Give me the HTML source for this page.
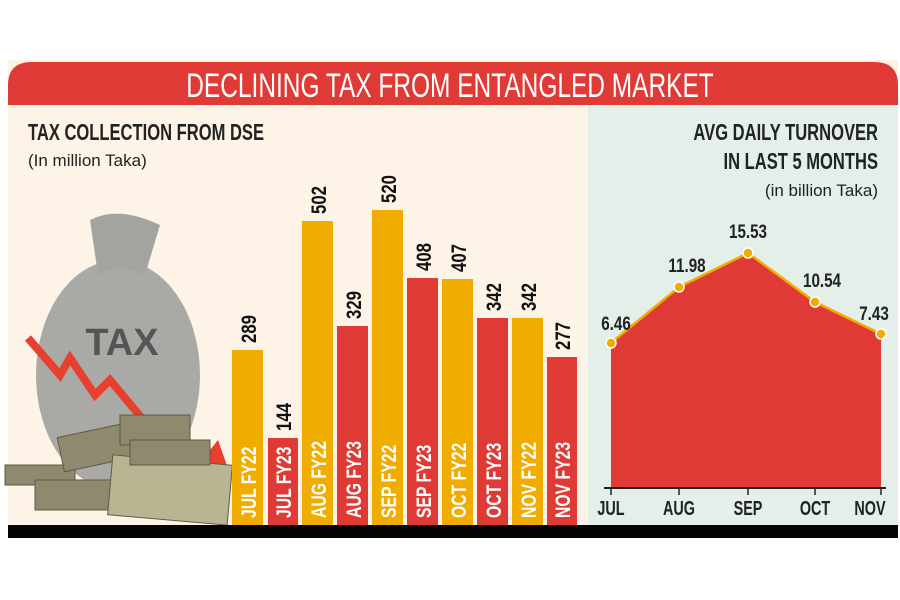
<!DOCTYPE html>
<html><head><meta charset="utf-8"><style>
html,body{margin:0;padding:0;background:#fff;}
svg{display:block;font-family:"Liberation Sans",sans-serif;}
</style></head><body>
<svg width="900" height="600" viewBox="0 0 900 600">
<rect x="0" y="0" width="900" height="600" fill="#ffffff"/>
<rect x="8" y="60" width="890" height="470" fill="#fdf3e6"/>
<path d="M8 105 V85 Q8 62 32 62 H874 Q898 62 898 85 V105 Z" fill="#e03a36"/>
<text x="450" y="97" text-anchor="middle" fill="#fff" font-size="34" transform="translate(450 0) scale(0.72 1) translate(-450 0)">DECLINING TAX FROM ENTANGLED MARKET</text>
<rect x="588" y="105" width="310" height="420" fill="#e3efe8"/>
<text x="28" y="140" font-size="23" font-weight="bold" fill="#222" transform="translate(28 0) scale(0.72 1) translate(-28 0)">TAX COLLECTION FROM DSE</text>
<text x="28" y="166" font-size="17" fill="#222">(In million Taka)</text>
<text x="878" y="140" text-anchor="end" font-size="23" font-weight="bold" fill="#222" transform="translate(878 0) scale(0.72 1) translate(-878 0)">AVG DAILY TURNOVER</text>
<text x="878" y="169" text-anchor="end" font-size="23" font-weight="bold" fill="#222" transform="translate(878 0) scale(0.72 1) translate(-878 0)">IN LAST 5 MONTHS</text>
<text x="878" y="196" text-anchor="end" font-size="17" fill="#222">(in billion Taka)</text>
<!-- bag illustration -->
<ellipse cx="118" cy="375" rx="82" ry="115" fill="#a9a9a5"/>
<path d="M90 220 Q118 205 160 225 L145 275 Q118 262 98 275 Z" fill="#a3a3a0"/>
<text x="122" y="355" text-anchor="middle" font-size="38" font-weight="bold" fill="#555">TAX</text>
<polyline points="28,338 60,375 70,358 95,395 110,380 135,410 160,440 205,470" fill="none" stroke="#e8402e" stroke-width="8"/>
<polygon points="190,475 232,480 218,440" fill="#e8402e"/>
<g fill="#8f8a6d" stroke="#5c5a45" stroke-width="1">
<rect x="5" y="465" width="70" height="20" />
<rect x="60" y="430" width="70" height="35" transform="rotate(-12 95 447)"/>
<rect x="120" y="415" width="70" height="30"/>
<rect x="35" y="480" width="95" height="30"/>
<rect x="110" y="460" width="120" height="60" transform="rotate(5 170 490)" fill="#b9b491"/>
<rect x="130" y="440" width="80" height="25"/>
</g>
<!-- bars -->
<g>
<rect x="232" y="350" width="31" height="175" fill="#f0ad00"/>
<rect x="268" y="438" width="30" height="87" fill="#e03a36"/>
<rect x="302" y="221" width="31" height="304" fill="#f0ad00"/>
<rect x="337" y="326" width="31" height="199" fill="#e03a36"/>
<rect x="372" y="210" width="31" height="315" fill="#f0ad00"/>
<rect x="407" y="278" width="31" height="247" fill="#e03a36"/>
<rect x="442" y="279" width="31" height="246" fill="#f0ad00"/>
<rect x="477" y="318" width="31" height="207" fill="#e03a36"/>
<rect x="512" y="318" width="31" height="207" fill="#f0ad00"/>
<rect x="547" y="357" width="30" height="168" fill="#e03a36"/>
</g>
<g font-size="21" font-weight="bold" fill="#fff">
<text transform="translate(256 518) rotate(-90) scale(0.75 1)">JUL FY22</text>
<text transform="translate(291 518) rotate(-90) scale(0.75 1)">JUL FY23</text>
<text transform="translate(326 518) rotate(-90) scale(0.75 1)">AUG FY22</text>
<text transform="translate(361 518) rotate(-90) scale(0.75 1)">AUG FY23</text>
<text transform="translate(396 518) rotate(-90) scale(0.75 1)">SEP FY22</text>
<text transform="translate(431 518) rotate(-90) scale(0.75 1)">SEP FY23</text>
<text transform="translate(466 518) rotate(-90) scale(0.75 1)">OCT FY22</text>
<text transform="translate(501 518) rotate(-90) scale(0.75 1)">OCT FY23</text>
<text transform="translate(536 518) rotate(-90) scale(0.75 1)">NOV FY22</text>
<text transform="translate(570 518) rotate(-90) scale(0.75 1)">NOV FY23</text>
</g>
<g font-size="21" font-weight="bold" fill="#111">
<text transform="translate(256 343) rotate(-90) scale(0.8 1)">289</text>
<text transform="translate(291 431) rotate(-90) scale(0.8 1)">144</text>
<text transform="translate(326 214) rotate(-90) scale(0.8 1)">502</text>
<text transform="translate(361 319) rotate(-90) scale(0.8 1)">329</text>
<text transform="translate(396 203) rotate(-90) scale(0.8 1)">520</text>
<text transform="translate(431 271) rotate(-90) scale(0.8 1)">408</text>
<text transform="translate(466 272) rotate(-90) scale(0.8 1)">407</text>
<text transform="translate(501 311) rotate(-90) scale(0.8 1)">342</text>
<text transform="translate(536 311) rotate(-90) scale(0.8 1)">342</text>
<text transform="translate(570 350) rotate(-90) scale(0.8 1)">277</text>
</g>
<!-- line/area -->
<polygon points="611,488 611,343 679,287 748,253 815,302 881,334 881,488" fill="#e03a36"/>
<polyline points="611,343 679,287 748,253 815,302 881,334" fill="none" stroke="#f0ad00" stroke-width="2.5"/>
<g fill="#f0ad00" stroke="#fff" stroke-width="1.5">
<circle cx="611" cy="343" r="5"/><circle cx="679" cy="287" r="5"/><circle cx="748" cy="253" r="5"/><circle cx="815" cy="302" r="5"/><circle cx="881" cy="334" r="5"/>
</g>
<line x1="604" y1="488" x2="886" y2="488" stroke="#222" stroke-width="2"/>
<g stroke="#222" stroke-width="1.5">
<line x1="611" y1="488" x2="611" y2="495"/><line x1="679" y1="488" x2="679" y2="495"/><line x1="748" y1="488" x2="748" y2="495"/><line x1="815" y1="488" x2="815" y2="495"/><line x1="881" y1="488" x2="881" y2="495"/>
</g>
<g font-size="20" font-weight="bold" fill="#222" text-anchor="middle">
<text transform="translate(611 515) scale(0.72 1)">JUL</text>
<text transform="translate(679 515) scale(0.72 1)">AUG</text>
<text transform="translate(748 515) scale(0.72 1)">SEP</text>
<text transform="translate(815 515) scale(0.72 1)">OCT</text>
<text transform="translate(870 515) scale(0.72 1)">NOV</text>
</g>
<g font-size="19" font-weight="bold" fill="#222" text-anchor="middle">
<text transform="translate(616 330) scale(0.8 1)">6.46</text>
<text transform="translate(687 272) scale(0.8 1)">11.98</text>
<text transform="translate(748 238) scale(0.8 1)">15.53</text>
<text transform="translate(822 287) scale(0.8 1)">10.54</text>
<text transform="translate(874 320) scale(0.8 1)">7.43</text>
</g>
<rect x="8" y="525" width="890" height="13" fill="#050505"/>
</svg>
</body></html>
